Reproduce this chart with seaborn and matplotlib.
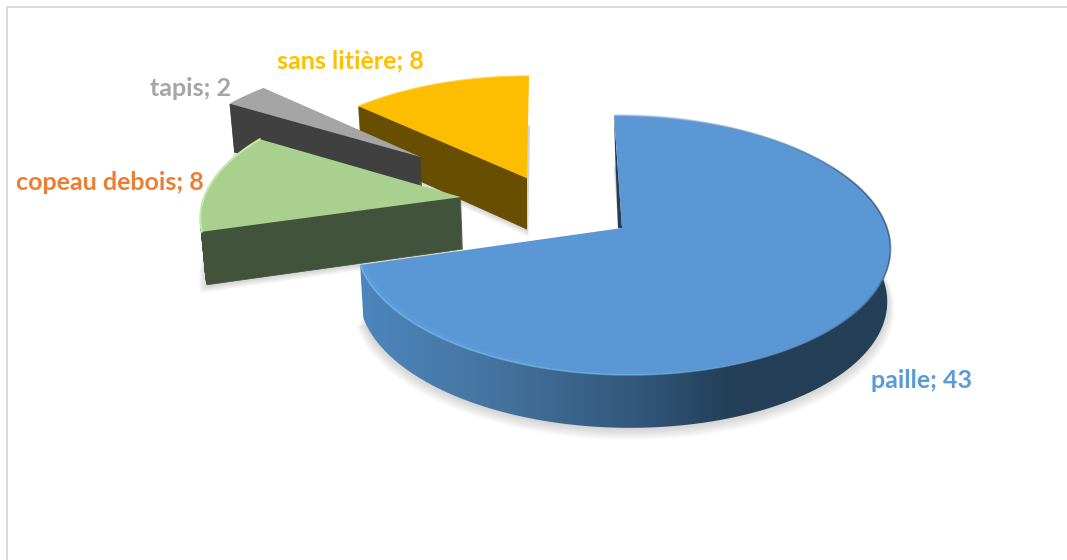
import numpy as np
import matplotlib
matplotlib.use('Agg')
import matplotlib.pyplot as plt
import seaborn as sns
from matplotlib.collections import LineCollection
from matplotlib.colors import LinearSegmentedColormap
from matplotlib.patches import Polygon, Rectangle

categories = ['paille', 'copeau debois', 'tapis', 'sans litière']
values = [43, 8, 2, 8]

top_colors = ['#5b97d5', '#a9d08e', '#a5a5a5', '#fdbd00']
side_colors = ['#243f57', '#41533a', '#404040', '#674e00']
label_colors = ['#5b9bd5', '#ed7d31', '#a5a5a5', '#ffc000']

# how far each slice is pulled out, in pie radius units (x, y)
slice_shift = [(0, 0), (-0.62, 0.25), (-0.80, 0.60), (-0.365, 0.41)]
# label left edge / baseline in pixels
label_pos = [(871, 388), (16, 190), (150, 96), (277, 68)]

# fake camera for the tilted pie
CX, CY = 622, 228
RX, RY = 265, 127.7
K = 0.1304
SHEAR = -8
DEPTH = 53

sns.set_theme(style='white')
plt.rcParams['font.family'] = ['Lato', 'DejaVu Sans']

fig, ax = plt.subplots(figsize=(10.67, 5.6), dpi=100)
fig.subplots_adjust(0, 0, 1, 1)

# let pie work out the angles, then redraw the wedges in perspective
wedges, _ = ax.pie(values, startangle=90, counterclock=False, radius=1)
angles = [(w.theta1, w.theta2) for w in wedges]
for w in wedges:
    w.remove()


def project(x, y, depth=0.0):
    s = 1 + K * y
    d = depth * np.minimum(1, 1 - 0.6 * (s - 1))
    sx = CX + RX * x / s * (1 - 0.012 * depth / DEPTH) + SHEAR * y
    sy = CY - RY * y / s + d
    return sx, sy


def arc(i, t1, t2, r=1.0, n=120):
    th = np.radians(np.linspace(t1, t2, n))
    ox, oy = slice_shift[i]
    return ox + r * np.cos(th), oy + r * np.sin(th)


def outline(i, depth=0.0, r=1.0):
    x, y = arc(i, angles[i][0], angles[i][1], r)
    ox, oy = slice_shift[i]
    x = np.append(x, ox)
    y = np.append(y, oy)
    sx, sy = project(x, y, depth)
    return sx, sy


def shadow(i, z):
    for k in range(9):
        sx, sy = outline(i, DEPTH + 1 + k * 0.8, 1 + 0.0035 * k)
        ax.fill(sx, sy, color='#707070', alpha=0.035, lw=0, zorder=z)


order = [3, 2, 1, 0]
for n, i in enumerate(order):
    z = 10 + n * 10
    shadow(i, z)
    if i == 0:
        # outer wall of the big slice gets a left to right gradient
        xa, ya = arc(0, angles[0][0], 30)
        px1, py1 = project(xa, ya)
        px2, py2 = project(xa, ya, DEPTH)
        strip = np.column_stack([np.r_[px1, px2[::-1]], np.r_[py1, py2[::-1]]])
        cmap = LinearSegmentedColormap.from_list(
            'wall', [(0, '#4d86be'), (0.26, '#44739f'), (0.53, '#32577a'), (0.70, '#243f57'), (1, '#243f57')])
        im = ax.imshow(np.linspace(0, 1, 256)[None, :], extent=(358, 890, 440, 100), cmap=cmap,
                       aspect='auto', zorder=z + 1)
        im.set_clip_path(Polygon(strip, transform=ax.transData))
        # sliver of wall along the 12 o'clock cut
        tx, ty = project(np.array([0, 0, 0, 0]), np.array([1, 0, 0, 0.6]))
        ax.fill(tx + np.array([0, 0, -4, -2]), ty, color=side_colors[0], lw=0, zorder=z + 1)
    else:
        apex_x = project(*slice_shift[i])[0]
        for d in np.arange(DEPTH, 0, -1):
            sx, sy = outline(i, d)
            layer = ax.fill(sx, sy, color=side_colors[i], lw=0.5, zorder=z + 1)[0]
            if i == 3:
                # no wall on the far side of this slice
                layer.set_clip_path(Rectangle((0, 0), apex_x, 560, transform=ax.transData))
    sx, sy = outline(i)
    ax.fill(sx, sy, color=top_colors[i], lw=0, zorder=z + 2)

# bevel on the edges of the top faces
xr, yr = arc(0, angles[0][0], angles[0][1], n=260)
pr = np.column_stack(project(xr, yr))
segs = np.stack([pr[:-1], pr[1:]], axis=1)
rim_cmap = LinearSegmentedColormap.from_list(
    'rim', [(0, '#76b6ee'), (0.3, '#6fb0e8'), (0.45, '#5488b8'), (0.60, '#2b4c6b'), (0.72, '#2b4c6b'),
            (0.85, '#5b8cba'), (1, '#b5cfe8')])
lc = LineCollection(segs, cmap=rim_cmap, linewidths=1.3, zorder=60, alpha=0.65)
lc.set_array(np.linspace(0, 1, len(segs)))
ax.add_collection(lc)
# wider soft highlight on the lower left part
xr, yr = arc(0, angles[0][0], angles[0][0] + 55, r=0.99)
ax.plot(*project(xr, yr), color='#6aaee8', lw=3, alpha=0.2, zorder=59)

xr, yr = arc(1, angles[1][0], angles[1][1])
ax.plot(*project(xr, yr), color='#c4e8a8', lw=1.5, zorder=35)
xr, yr = arc(3, angles[3][0], angles[3][1])
ax.plot(*project(xr, yr), color='#ffd34d', lw=0.8, zorder=15)

for i, (cat, val) in enumerate(zip(categories, values)):
    ax.text(label_pos[i][0], label_pos[i][1], f'{cat}; {val}', color=label_colors[i],
            fontsize=18, fontweight='bold', ha='left', va='baseline', zorder=70)

# chart frame, only top and left show in the crop
ax.plot([7, 7, 1067], [560, 7, 7], color='#d9d9d9', lw=1.4, zorder=1)

ax.set_aspect('auto')
ax.set_xlim(0, 1067)
ax.set_ylim(560, 0)
ax.axis('off')

fig.savefig('out.png', dpi=100, facecolor='white')
